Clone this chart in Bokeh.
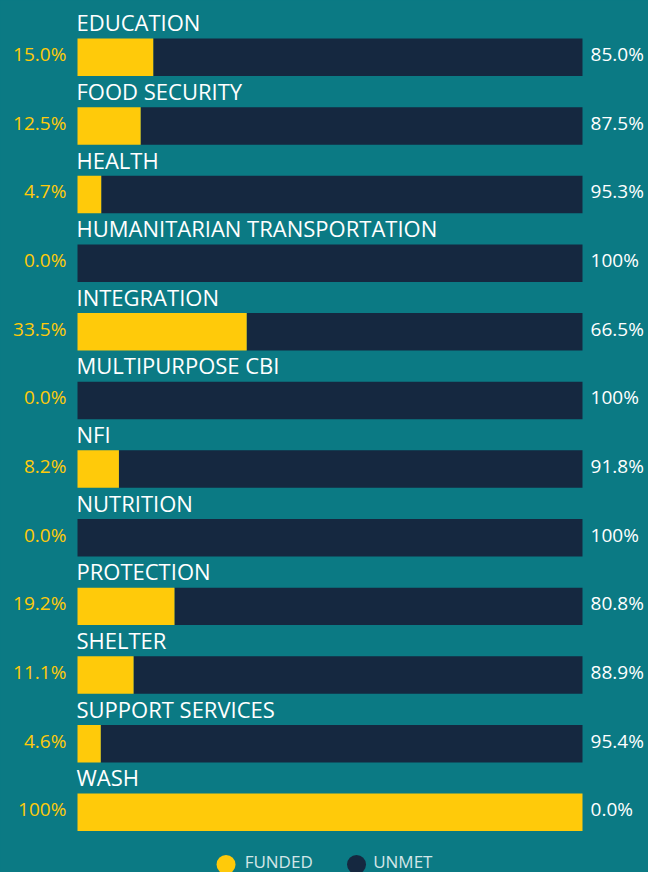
from bokeh.plotting import figure
from bokeh.models import ColumnDataSource, Range1d, GlobalInlineStyleSheet
from bokeh.core.properties import value
from bokeh.embed import file_html
from bokeh.resources import INLINE

categories = ["EDUCATION", "FOOD SECURITY", "HEALTH", "HUMANITARIAN TRANSPORTATION",
              "INTEGRATION", "MULTIPURPOSE CBI", "NFI", "NUTRITION", "PROTECTION",
              "SHELTER", "SUPPORT SERVICES", "WASH"]
funded = [15.0, 12.5, 4.7, 0.0, 33.5, 0.0, 8.2, 0.0, 19.2, 11.1, 4.6, 100.0]
unmet = [85.0, 87.5, 95.3, 100.0, 66.5, 100.0, 91.8, 100.0, 80.8, 88.9, 95.4, 0.0]
legend_labels = ["FUNDED", "UNMET"]

BG = "#0b7a84"
YELLOW = "#ffca0a"
NAVY = "#152840"
FONT = "Open Sans"

def fmt(v):
    return "100%" if v == 100 else f"{v:.1f}%"

rows = list(range(len(categories)))
src = ColumnDataSource(dict(
    row=rows,
    cat=categories,
    funded=funded,
    unmet_right=[f + u for f, u in zip(funded, unmet)],
    flab=[fmt(v) for v in funded],
    ulab=[fmt(v) for v in unmet],
    cat_y=[r - 0.51 for r in rows],
    val_y=[r - 0.045 for r in rows],
))

p = figure(width=648, height=872, output_backend="svg", toolbar_location=None,
           x_range=Range1d(-15.248, 113.069), y_range=Range1d(11.877, -0.8268),
           min_border=0, background_fill_color=BG, border_fill_color=BG,
           outline_line_color=None)
p.axis.visible = False
p.grid.visible = False

p.hbar(y="row", left="funded", right="unmet_right", height=0.546, source=src,
       fill_color=NAVY, line_color=None)
p.hbar(y="row", left=0, right="funded", height=0.546, source=src,
       fill_color=YELLOW, line_color=None)

p.text(x=-0.2, y="cat_y", text="cat", source=src, text_color="#ffffff",
       text_font=value(FONT), text_font_size="22px", text_baseline="alphabetic",
       text_align="left")
p.text(x=-2.2, y="val_y", text="flab", source=src, text_color=YELLOW,
       text_font=value(FONT), text_font_size="19px", text_baseline="alphabetic",
       text_align="right")
p.text(x=101.6, y="val_y", text="ulab", source=src, text_color="#ffffff",
       text_font=value(FONT), text_font_size="19px", text_baseline="alphabetic",
       text_align="left")

# legend
leg = ColumnDataSource(dict(
    cx=[29.41, 55.25], cy=[11.76, 11.76], color=[YELLOW, NAVY],
    tx=[33.1, 58.55], ty=[11.72, 11.72], label=legend_labels,
))
p.scatter(x="cx", y="cy", size=19, marker="circle", color="color", source=leg,
          line_color=None)
p.text(x="tx", y="ty", text="label", source=leg, text_color="#d3e6e8",
       text_font=value(FONT), text_font_size="17px", text_baseline="alphabetic",
       text_align="left")

p.stylesheets = [GlobalInlineStyleSheet(css="body{background:%s;}" % BG)]

open("out.html", "w").write(file_html(p, INLINE))
